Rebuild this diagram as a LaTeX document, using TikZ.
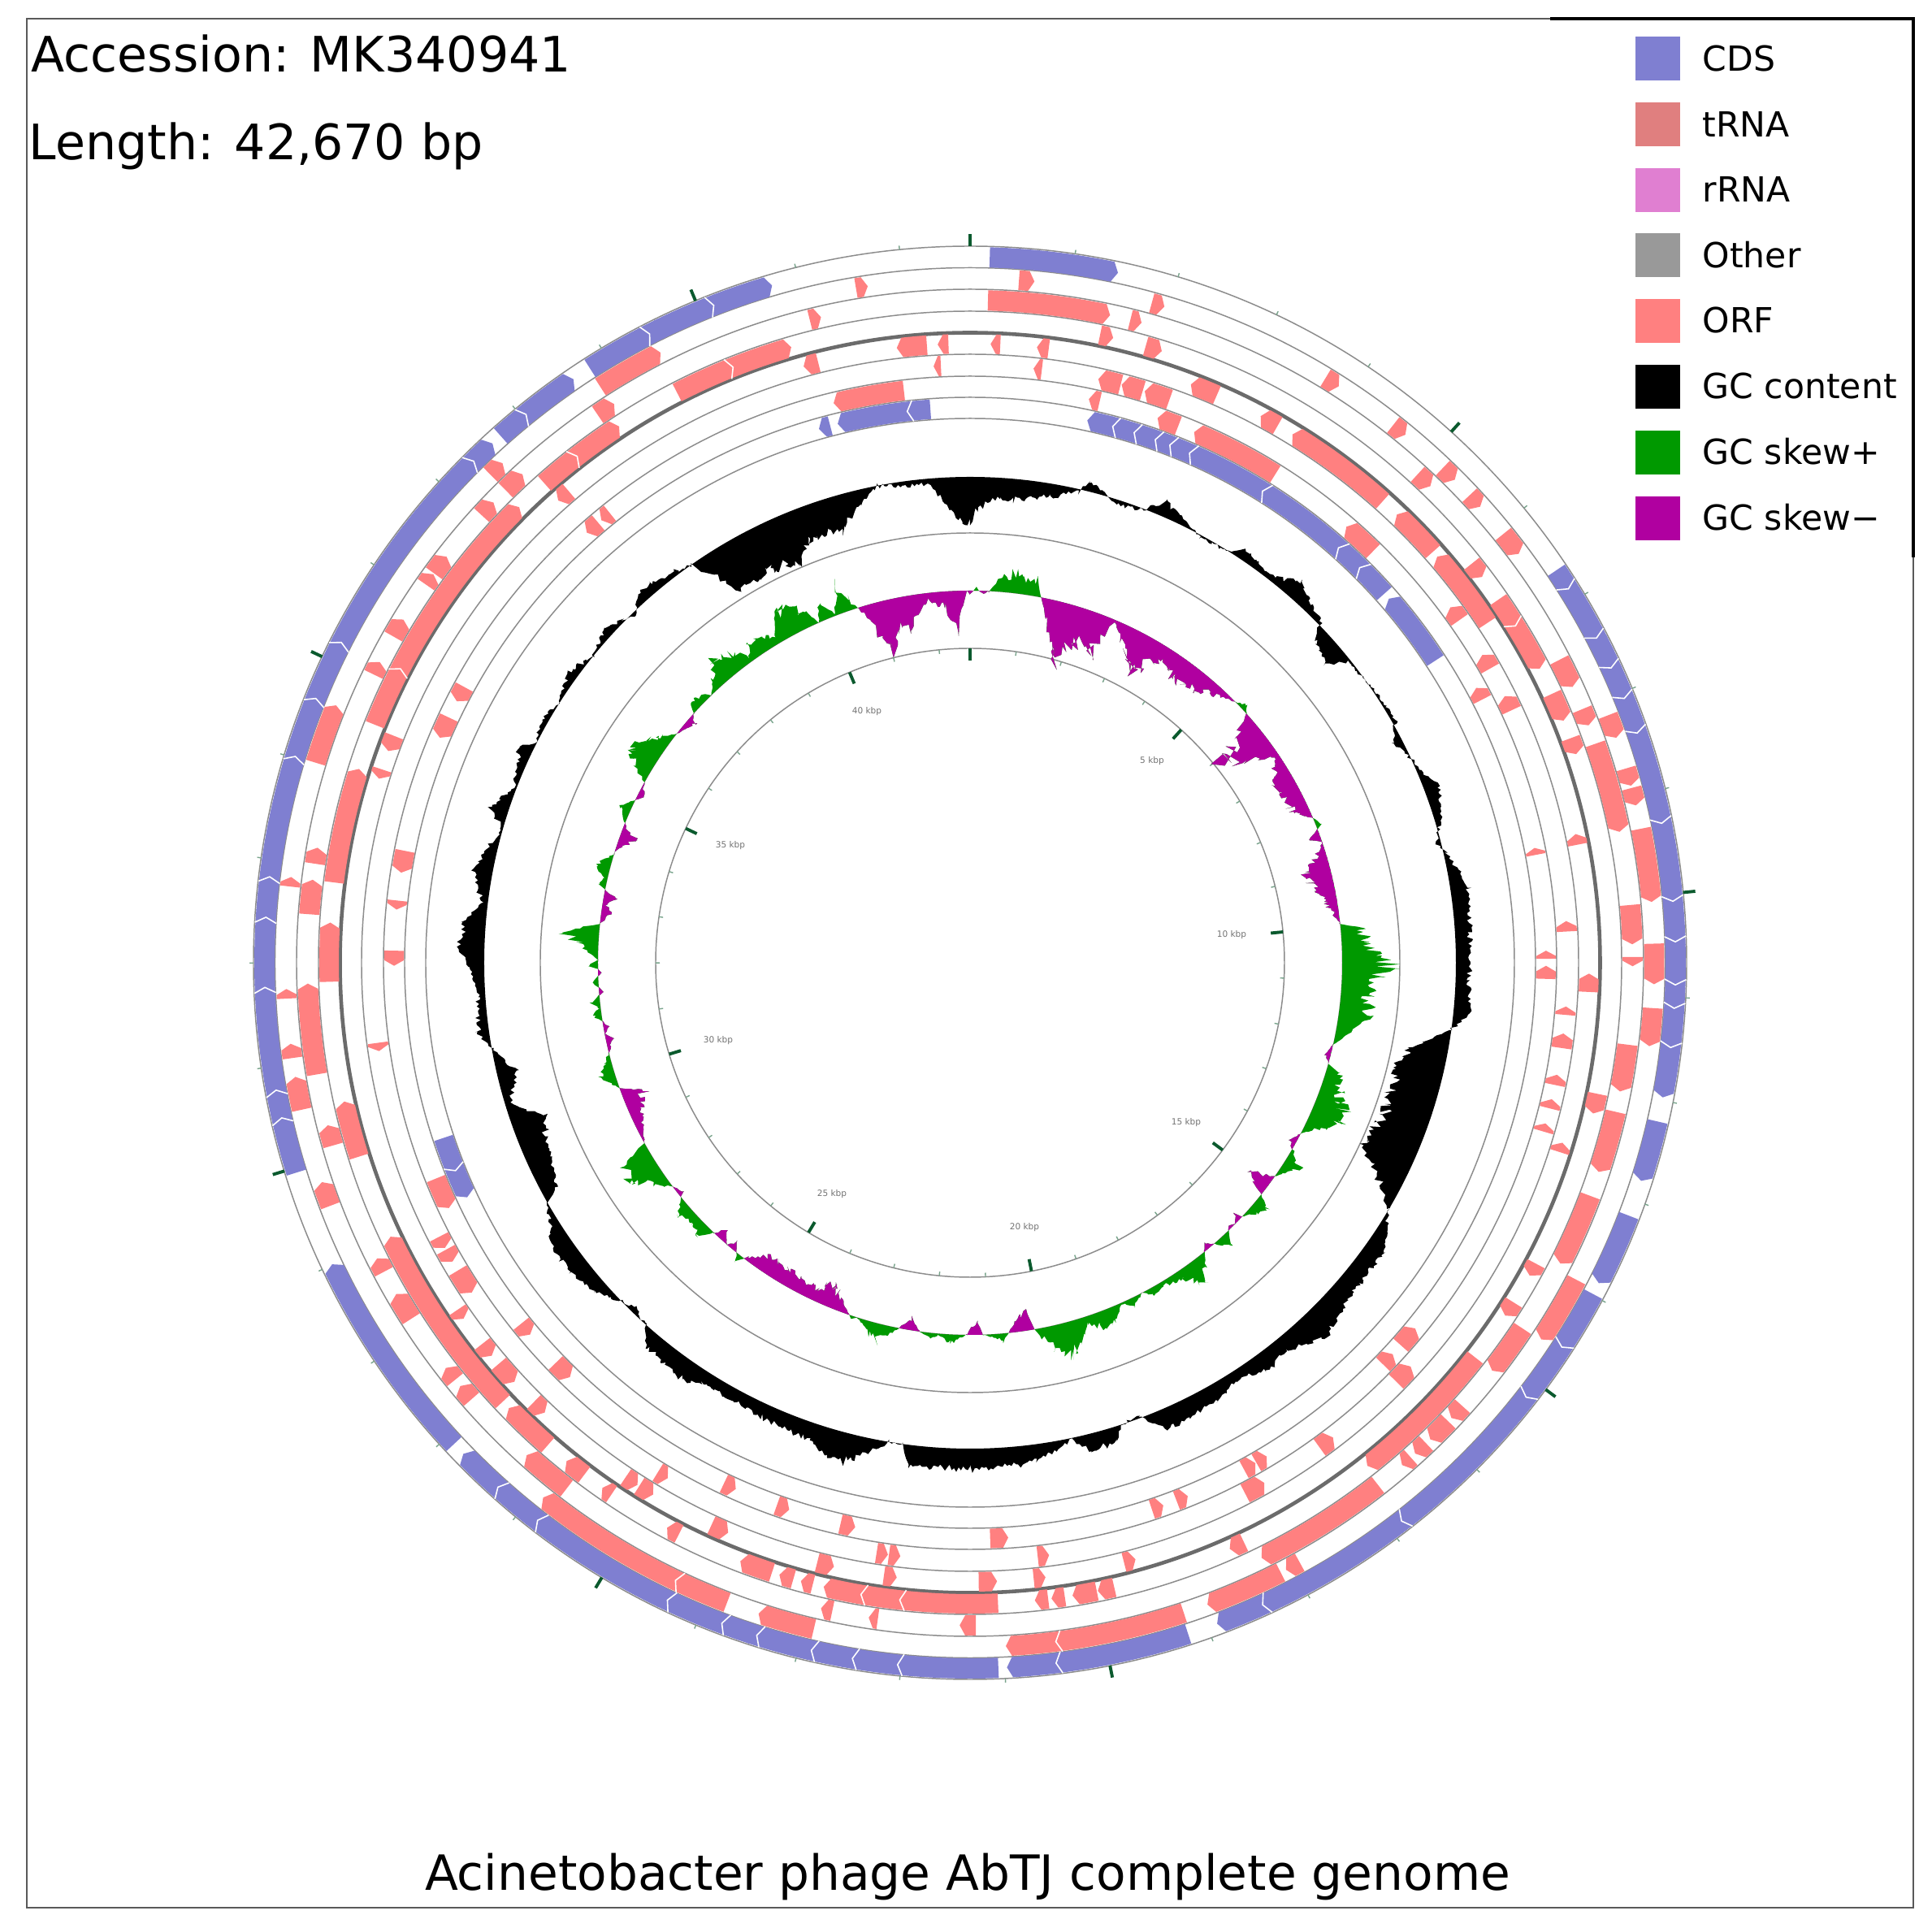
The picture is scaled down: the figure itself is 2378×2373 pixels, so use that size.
\documentclass[tikz,border=0pt]{standalone}
\usepackage{fontspec}
\setmainfont{DejaVu Sans}
\definecolor{cdsc}{HTML}{7F7FD1}
\definecolor{trnac}{HTML}{E07F7F}
\definecolor{rrnac}{HTML}{E07FD1}
\definecolor{otherc}{HTML}{999999}
\definecolor{orfc}{HTML}{FF8080}
\definecolor{plusc}{HTML}{009900}
\definecolor{minusc}{HTML}{B000A0}
\definecolor{tickc}{HTML}{0B5A2E}
\definecolor{ringc}{HTML}{8C8C8C}
\tikzset{
 ringline/.style={draw=ringc,line width=0.42pt},
 backbone/.style={draw=black!58,line width=1.3pt},
 majortick/.style={draw=tickc,line width=1.1pt},
 minortick/.style={draw=tickc!55,line width=0.4pt},
 frameline/.style={draw=black!65,line width=0.6pt},
 framedark/.style={draw=black,line width=1pt},
 jointline/.style={draw=white,line width=0.45pt},
 lab/.style={inner sep=0pt,anchor=west,font=\fontsize{17.1}{20}\selectfont},
 legtext/.style={inner sep=0pt,anchor=west,font=\fontsize{12.1}{14}\selectfont},
 ticklab/.style={inner sep=0pt,text=black!55,font=\fontsize{3}{4}\selectfont},
}
% forward feature: head at larger angle
\newcommand\fwdseg[4]{%
 \pgfmathsetmacro\gt{min(7/#1*57.3,(#4-#3)*0.65)}%
 \pgfmathsetmacro\gm{(#1+#2)/2}%
 \fill (90-#3:#1) arc[start angle=90-#3,end angle=90-#4+\gt,radius=#1]
  -- (90-#4:\gm) -- (90-#4+\gt:#2) arc[start angle=90-#4+\gt,end angle=90-#3,radius=#2] -- cycle;}
% reverse feature: head at smaller angle
\newcommand\revseg[4]{%
 \pgfmathsetmacro\gt{min(7/#1*57.3,(#4-#3)*0.65)}%
 \pgfmathsetmacro\gm{(#1+#2)/2}%
 \fill (90-#4:#1) arc[start angle=90-#4,end angle=90-#3-\gt,radius=#1]
  -- (90-#3:\gm) -- (90-#3-\gt:#2) arc[start angle=90-#3-\gt,end angle=90-#4,radius=#2] -- cycle;}
% joint of two touching forward features: prior end #3, next start #4
\newcommand\fjoint[4]{%
 \pgfmathsetmacro\gt{7/#1*57.3}%
 \pgfmathsetmacro\gm{(#1+#2)/2}%
 \fill (90-#3+\gt+0.1:#1) arc[start angle=90-#3+\gt+0.1,end angle=90-#4-0.1,radius=#1]
  -- (90-#4-0.1:#2) arc[start angle=90-#4-0.1,end angle=90-#3+\gt+0.1,radius=#2] -- cycle;
 \draw[jointline] (90-#3+\gt:#1+0.8) -- (90-#3:\gm) -- (90-#3+\gt:#2-0.8);}
% joint of two touching reverse features: prior end #3, next start #4
\newcommand\rjoint[4]{%
 \pgfmathsetmacro\gt{7/#1*57.3}%
 \pgfmathsetmacro\gm{(#1+#2)/2}%
 \fill (90-#3+0.1:#1) arc[start angle=90-#3+0.1,end angle=90-#4-\gt-0.1,radius=#1]
  -- (90-#4-\gt-0.1:#2) arc[start angle=90-#4-\gt-0.1,end angle=90-#3+0.1,radius=#2] -- cycle;
 \draw[jointline] (90-#4-\gt:#1+0.8) -- (90-#4:\gm) -- (90-#4-\gt:#2-0.8);}
% contour of a plot around a base circle
\newcommand\ringplot[5]{% base, first value, list, rel noise, abs noise
 \pgfmathsetseed{4711}%
 \fill[even odd rule] (90:#1+#2)
  \foreach \b/\db [remember=\b as \a (initially 0),remember=\db as \da (initially #2)] in #3 {
   -- plot[domain=\a:\b,samples={int(max(2,(\b-\a)*4))}]
     (90-\x:{#1+(\da+(\db-\da)*(\x-\a)/(\b-\a))*(1+#4*(rand))+#5*(rand)+0})
  } -- cycle (0,0) circle[radius=#1];}
\def\gclist{1/-39,3.7/-24,5.3/-25,9.8/-16,13/-3,14/11,16/3,17.7/-5,21/-2,23/20,26/7,28.4/-3,32/-2,33.7/14,37.7/5,41/22,45.8/4,47/-17,50/-26,51.5/-2,57.7/2,60.3/5,62.5/-11,65.7/2,69.7/19,75.7/-4,77/4,81.4/22,86.5/19,92/15,96/21,98/-2,101/-46,104/-58,109.5/-55,114.7/-65,118.7/-20,120.4/-1,125/24,130.6/24,136.4/37,141.8/14,143/24,147.6/11,150.4/21,157/26,159.6/-1,161/-3,162/3,163/19,166/22,168/2,172.4/21,180/25,187/24,188/1,189.6/0,193.4/33,196/37,198.6/21,206.4/16,212.6/15,214.5/25,220/20,221.8/1,224/-7,225.7/-1,228.8/16,232/23,235.7/24,238.7/7,240.5/0,241.3/-19,246/-31,250.4/-41,253/-7,256.7/-24,259.9/0,262/13,266/8,269.5/19,271.8/30,274.6/27,277/7,280.6/24,286/2,288/24,291/2,295.6/16,297/1,299.6/8,302/0,306/12,309/0,312.7/12,314.7/3,316/-4,318/13,320/13,324.9/0,328.4/-56,332.6/-54,337/-63,339/-42,343.5/-43,346.6/-17,349/0,352/-6,355/-6,359/-57,360/-57}
\def\skewlist{1/4,2/-4,3/0,4.5/16,6.3/26,8/18,10/20,11/0,15/-65,18/-42,21.5/-46,23/-2,28.8/-48,32.5/-18,35/-26,38/-28,43/-9,45/-2,47/7,48/0,51.6/-60,56/-6,60/-25,65/-19,67/-1,68.4/7,69/0,70/-17,71/0,75.8/-30,80.3/-14,84/0,85/25,87/30,89/40,90.8/63,92/42,94.8/34,97.7/36,100/20,102.7/0,104.6/-6,105.8/0,106.5/16,110/26,113/42,115/22,117.3/0,119/-8,120/0,122/20,125/0,126.7/-25,127.5/-22,128.4/0,130/18,133/0,133.5/-10,134.5/0,135.5/-4,136/0,137.3/18,139/0,140/-8,141/0,143.7/30,146/12,149/5,151/10,152.5/0,154.4/11,156/2,158.9/24,162/10,165/42,167.6/31,170/0,170.7/-20,172/-22,173/-12,174/0,175/9,178/0,178.8/-17,180.5/0,183/10,185/2,186/6,187.8/0,189.3/-14,191/0,193.9/22,197.7/0,198.5/4,199/0,203/-30,205/-15,209/-18,214/-21,217/-4,218/10,219/0,219.8/-10,220.8/0,222.4/-12,223.5/0,225/16,227/10,229/17,231/0,231.5/-6,233/0,237.8/41,240/29,241/0,245/-12,248.7/-27,250.3/0,252.8/19,254.5/8,256/0,258/-8,259/0,260/-6,261/0,262/10,263/2,264/10,265/0,265.5/-5,266.2/0,267/8,268/0,268.5/-3,269/0,269.5/12,270.5/0,271/4,273/25,274/48,275/30,276/0,278/-12,279/-4,280.5/-15,281.3/0,282/8,283/5,284.5/19,287/0,288/-3,290/-19,292/0,294/13,296/0,297/-8,298/-2,299/0,301/25,302.8/37,305/22,308/0,309.5/-5,311/-10,312/0,313/12,315/8,316/0,319.8/32,323/18,324/5,325.5/22,328/14,329/8,331.8/39,335/17,336/0,337.3/23,338.8/3,340.7/35,341.5/15,342.5/0,346.2/-60,348.8/-30,350/-38,353.4/-8,356/-19,358/-44,359.5/0,360/-4}
\begin{document}
\begin{tikzpicture}[x=0.01cm,y=0.01cm]
\useasboundingbox (-1194,1185) rectangle (1184,-1188);
\fill[white] (-1194,1185) rectangle (1184,-1188);
% frame
\draw[frameline] (-1161,1162) rectangle (1161,-1163);
\draw[framedark] (714,1162) -- (1161,1162) -- (1161,499);
% rings
\foreach \r in {882,855.5,829,802,749,722,696,670,529,387}
  \draw[ringline] (0,0) circle[radius=\r];
\draw[backbone] (0,0) circle[radius=775.5];
% ticks
\foreach \k in {0,...,42} {
  \draw[minortick] (90-\k*8.4369:882) -- (90-\k*8.4369:887);
  \draw[minortick] (90-\k*8.4369:387) -- (90-\k*8.4369:382);
}
\foreach \k in {0,...,8} {
  \draw[majortick] (90-\k*42.184:882) -- (90-\k*42.184:897);
  \draw[majortick] (90-\k*42.184:387) -- (90-\k*42.184:372);
}
% tick labels
\node[ticklab] (k5) at (224,248) {5 kbp};
\node[ticklab] (k10) at (322,34) {10 kbp};
\node[ticklab] (k15) at (266,-197) {15 kbp};
\node[ticklab] (k20) at (67,-326) {20 kbp};
\node[ticklab] (k25) at (-170,-285) {25 kbp};
\node[ticklab] (k30) at (-310,-96) {30 kbp};
\node[ticklab] (k35) at (-295,144) {35 kbp};
\node[ticklab] (k40) at (-127,309) {40 kbp};
% features
\begin{scope}[cdsc]
\foreach \a/\b in {1.6/12.1,56.2/58,58.3/62.6,62.8/65.3,65.5/68,68.2/71,71.2/78.6,78.8/85,85.2/88.3,88.5/91.8,92/93.7,94/96.9,97.2/101,103/108,111/117,118/123,123.7/128,128.3/142.3,142.7/155.5,156/159.5,162/173,173.3/177,177.7/185.9,186.4/189.6,190.2/193,193.6/197.6,198/200.6,201/205.4,205.8/217.8,218.3/222,222.4/225.9,227/244.7,252.7/257.3,257.7/259.6,260.4/268,268.2/273.7,274.2/277,277.5/287,287.6/292,292.4/297,297.8/315.3,315.7/317.4,318.3/321,321.5/325.8,327.4/333,333.8/338.7,339/343.7}
  {\fwdseg{881}{856}{\a}{\b}}
\foreach \a/\b in {58/58.3,62.6/62.8,65.3/65.5,68/68.2,71/71.2,78.6/78.8,85/85.2,88.3/88.5,91.8/92,93.7/94,96.9/97.2,123/123.7,128/128.3,142.3/142.7,155.5/156,173/173.3,185.9/186.4,189.6/190.2,193/193.6,197.6/198,200.6/201,205.4/205.8,217.8/218.3,222/222.4,257.3/257.7,259.6/260.4,268/268.2,273.7/274.2,277/277.5,287/287.6,292/292.4,297/297.8,315.3/315.7,321/321.5,333/333.8,338.7/339}
  {\fjoint{881}{856}{\a}{\b}}
\foreach \a/\b in {12.2/14.7,14.9/17,17.2/19.3,19.5/20.9,21.1/23.2,23.3/31.6,31.8/41.4,41.6/44.4,44.6/48.3,49/57,245/247.8,248/251.6,344.2/345.4,346.2/353.3,353.5/355.9}
  {\revseg{695}{671}{\a}{\b}}
\foreach \a/\b in {14.7/14.9,17/17.2,19.3/19.5,20.9/21.1,23.2/23.3,31.6/31.8,41.4/41.6,44.4/44.6,247.8/248,353.3/353.5}
  {\rjoint{695}{671}{\a}{\b}}
\end{scope}
\begin{scope}[orfc]
\foreach \a/\b in {4.1/5.4,15.4/16.5,31.3/32.6,38.2/39.5,43.7/45.1,46.9/48.2,51.2/53.3,68.8/70.8,73.5/75,75.2/76.7,78.7/84.9,88.4/91.8,93.8/97,117.6/123.4,151.2/152.5,153/159.7,161.8/172.8,173.4/177,193.2/198,200.8/205.5,205.7/218.6,249.2/251.3,257.6/260.4,262/263.2,267/267.8,276.4/277.2,287/292.1,315.5/316.9,327.3/333.1,350.4/351.4}
  {\fwdseg{854.5}{830}{\a}{\b}}
\foreach \a/\b in {172.8/173.4,205.5/205.7}
  {\fjoint{854.5}{830}{\a}{\b}}
\foreach \a/\b in {1.55/12.2,14/15,42.5/44,62.8/65.4,67.5/69,70.7/78.6,85/88.4,89.5/90.3,97.1/101.2,103/108.4,110.6/117,123.5/128,132/133.4,133.8/136,136.5/137.8,138.3/139.3,142/153.9,179.5/180.9,188/188.8,192/193,217.5/222,228.8/230.3,231/232.3,237.5/240,242.2/243.5,254/255.8,260.3/268.2,274.2/277.2,278.6/280,295.8/297,299.5/301.2,304.8/305.9,306/307.8,312.5/314,315.5/317.5,325.8/327.5,346/347}
  {\fwdseg{828}{803}{\a}{\b}}
\foreach \a/\b in {11.7/12.9,15.9/17.4,51.5/53,55.5/58.3,58.5/62.7,65.2/67.8,69.5/71,101.8/103.6,118/119.2,122/123.4,128/141.7,154.7/156.1,167/168.5,168.6/170.8,171.5/172.7,173/174.2,177.5/186.3,186.7/189.8,190/193.2,194.2/195.3,196/197.3,198/201,207/208.2,214/215,217/219,221.2/226,226.8/244.7,252.4/257.5,268.3/273.6,277.2/287.6,291.8/297.3,297.5/315.3,318.4/322.2,322.4/326.8,332.8/338.3,338.6/343.8}
  {\fwdseg{801}{777}{\a}{\b}}
\foreach \a/\b in {58.3/58.5,186.3/186.7,189.8/190,297.3/297.5,322.2/322.4,338.3/338.6}
  {\fjoint{801}{777}{\a}{\b}}
\foreach \a/\b in {1.9/2.8,6.2/7.3,20.9/23.5,28/29.8,31.4/41.8,43.6/48.4,49/56.7,78/79,91/92.7,106.9/107.8,164.5/165.6,173/174.1,177.5/179.2,186.8/188,192.7/194.3,203/204.7,210.8/212.3,212.5/213.8,223.4/224.8,227.4/229.6,230.6/232,234.9/235.9,287.3/288.2,290/291.5,318.3/319.6,344.4/345.8,353.2/356,357/358}
  {\revseg{774}{750}{\a}{\b}}
\foreach \a/\b in {6.1/6.9,12.4/14.6,14.7/16.8,17/19.5,53.5/55,59/60.5,63.5/65,86/87,94.2/95,96.8/98.2,100.8/101.8,103.2/104.1,105.6/106.4,132.5/134.5,142.6/144.2,150.5/152.6,172.4/173.5,186.7/187.8,187.9/189,210.4/211.5,236.5/239,240/241.3,241.5/242.7,261.5/262.3,356.5/357.2}
  {\revseg{748}{723}{\a}{\b}}
\foreach \a/\b in {11.9/13,19/21.2,22.9/32,40.8/44.4,61.5/62.8,78.5/79.2,88.8/89.6,90.3/91.6,129.4/131.6,132.8/134.2,149/150.2,150.3/151.6,157.8/159,160.4/161.6,176.2/178,191.5/193,198.3/199.6,204/205.3,224/226,229.8/231.2,244.8/248,269.7/271.2,275.3/276.2,279/281.2,293/295.2,297/298.6,318.3/319.8,320.2/321.3,346.3/353.4}
  {\revseg{721}{697}{\a}{\b}}
\end{scope}
% GC content
\begin{scope}[black]
\ringplot{598}{-57}{\gclist}{0.12}{3.2}
\end{scope}
% GC skew
\begin{scope}[plusc]
\ringplot{458}{-4}{\skewlist}{0.32}{1}
\end{scope}
\begin{scope}[minusc]
\clip (0,0) circle[radius=458];
\ringplot{458}{-4}{\skewlist}{0.32}{1}
\end{scope}
% legend
\foreach \i/\c/\t in {0/cdsc/CDS,1/trnac/tRNA,2/rrnac/rRNA,3/otherc/Other,4/orfc/ORF,5/black/GC content,6/plusc/GC skew+,7/minusc/GC skew−} {
  \fill[\c] (819,1140-\i*80.8) rectangle (874,1086-\i*80.8);
  \node[legtext] (leg\i) at (901,1113-\i*80.6) {\t};
}
% titles
\node[lab] (acc) at (-1156,1119) {Accession: MK340941};
\node[lab] (len) at (-1159,1005) {Length: 42,670 bp};
\node[inner sep=0pt,font=\fontsize{17}{20}\selectfont] (title) at (-3,-1125) {Acinetobacter phage AbTJ complete genome};
\end{tikzpicture}
\end{document}
